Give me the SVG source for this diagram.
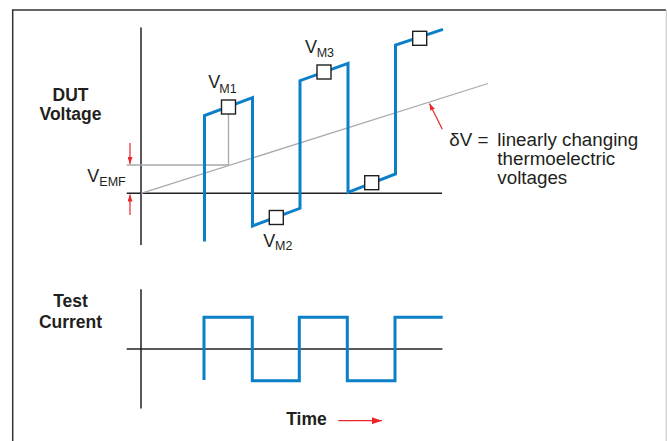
<svg xmlns="http://www.w3.org/2000/svg" width="667" height="441" viewBox="0 0 667 441">
<defs>
<style>
.ax{stroke:#231f20;stroke-width:1.5;fill:none}
.gr{stroke:#a7a9ac;stroke-width:1.3;fill:none}
.bl{stroke:#0b7fc7;stroke-width:3;fill:none;stroke-linejoin:miter}
.bx{fill:#fff;stroke:#231f20;stroke-width:1.4}
.rd{stroke:#e8262b;stroke-width:1.2;fill:none}
.lb{font-family:"Liberation Sans",Arial,sans-serif;font-weight:bold;font-size:17.5px;fill:#231f20;text-anchor:middle}
.tx{font-family:"Liberation Sans",Arial,sans-serif;font-size:18px;fill:#231f20}
.sb{font-size:12.5px}
.big{font-family:"Liberation Sans",Arial,sans-serif;font-size:18.8px;fill:#231f20}
</style>
<marker id="ah" viewBox="0 0 10 7" refX="10" refY="3.5" markerWidth="10" markerHeight="7" markerUnits="userSpaceOnUse" orient="auto">
<path d="M0,0 L10,3.5 L0,7 z" fill="#e8262b"/>
</marker>
<marker id="ahs" viewBox="0 0 7 5" refX="7" refY="2.5" markerWidth="7" markerHeight="5" markerUnits="userSpaceOnUse" orient="auto">
<path d="M0,0 L7,2.5 L0,5 z" fill="#e8262b"/>
</marker>
</defs>
<rect width="667" height="441" fill="#fff"/>
<g id="frame">
<path d="M12.7,441 V10 H666" stroke="#333" stroke-width="1.5" fill="none"/>
<path d="M666.3,10 V441" stroke="#ccc" stroke-width="1.2" fill="none"/>
</g>
<g id="voltage-plot">
<path class="ax" d="M141,27.5 V245"/>
<path class="ax" d="M126.7,193.3 H442"/>
<path class="gr" d="M141,193.3 L488,83.5"/>
<path class="gr" d="M126.7,165 H228.5 V114"/>
<path class="bl" d="M204.5,241.5 V115.5 L252.5,97.7 V226 L300,208.3 V80.7 L348,63.3 V192.3 L395.5,174 V45 L443,29.3"/>
<rect id="vm1-box" class="bx" x="221.5" y="100" width="14" height="14"/>
<rect id="vm2-box" class="bx" x="269.3" y="210.5" width="14" height="14"/>
<rect id="vm3-box" class="bx" x="317" y="65" width="14" height="14"/>
<rect id="box4" class="bx" x="364.7" y="175.7" width="14" height="14"/>
<rect id="box5" class="bx" x="412.7" y="31.3" width="14" height="14"/>
</g>
<g id="connectors">
<path class="rd" d="M130,143 V164" marker-end="url(#ahs)"/>
<path class="rd" d="M130,215 V194.5" marker-end="url(#ahs)"/>
<path class="rd" d="M442.3,129.3 L429.5,103.5" marker-end="url(#ahs)"/>
<path class="rd" d="M338.3,420.7 H382" stroke-width="1.6" marker-end="url(#ah)"/>
</g>
<g id="current-plot">
<path class="ax" d="M141,289.3 V408.5"/>
<path class="ax" d="M126.7,349 H442.4"/>
<path class="bl" d="M204,380 V317.3 H252.3 V380.7 H299.3 V317.3 H347.3 V380.7 H395 V317.3 H442.7"/>
</g>
<g id="labels">
<text class="lb" x="70.5" y="101">DUT</text>
<text class="lb" x="70.5" y="119.5">Voltage</text>
<text class="lb" x="70.5" y="307">Test</text>
<text class="lb" x="70.5" y="327.5">Current</text>
<text class="lb" x="306.5" y="425">Time</text>
<text class="tx" x="208.3" y="88.3">V<tspan class="sb" x="219.3" y="92.7">M1</tspan></text>
<text class="tx" x="263.3" y="246.7">V<tspan class="sb" x="275" y="250">M2</tspan></text>
<text class="tx" x="305" y="53.3">V<tspan class="sb" x="316.7" y="57.3">M3</tspan></text>
<text class="tx" x="87.3" y="181.7">V<tspan class="sb" x="99.3" y="186">EMF</tspan></text>
<text class="big" x="449.3" y="145.5">δV =</text>
<text class="big" x="497.3" y="145.5">linearly changing</text>
<text class="big" x="497.3" y="164.5">thermoelectric</text>
<text class="big" x="497.3" y="183.5">voltages</text>
</g>
</svg>
